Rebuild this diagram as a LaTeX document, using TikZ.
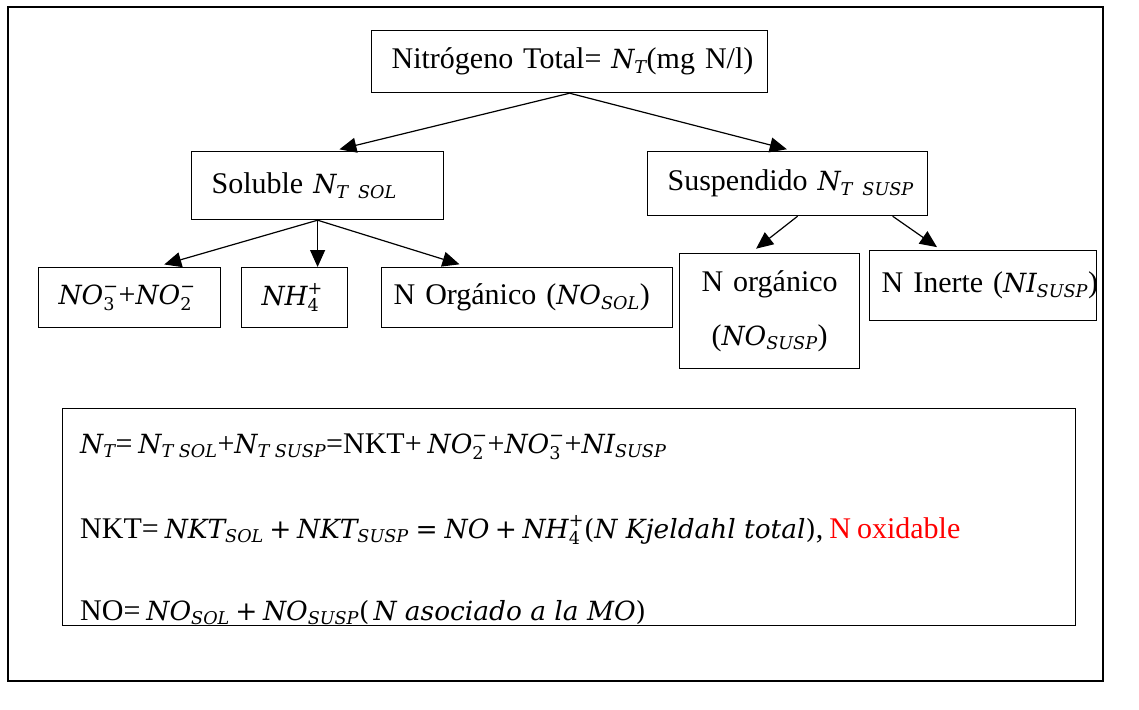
\documentclass[tikz,border=0pt]{standalone}
\usepackage{fontspec}
\usepackage{amsmath}
\usetikzlibrary{arrows.meta}
\setmainfont{Liberation Serif}[WordSpace=0.8]
\newfontfamily\mfont{DejaVu Serif}[Scale=0.88]
\DeclareMathSizes{30}{30}{20}{15}
% italic symbols, upright indices and operators for the formulas
\newcommand\mi[1]{\text{\mfont\itshape #1}}
\newcommand\mn[1]{\text{\mfont #1}}
\newcommand\mplus{\mathbin{\mn{+}}}
\newcommand\meq{\mathrel{\mn{=}}}
\newcommand\ion[2]{_{\mn{#1}}^{\mn{#2}}}
\begin{document}
\begin{tikzpicture}[x=1pt,y=-1pt,
  every node/.style={font=\fontsize{30}{36}\selectfont},
  box/.style={draw, line width=1.2pt, anchor=north west, inner xsep=20pt, inner ysep=0pt, align=left},
  link/.style={line width=1.2pt, -{Triangle[length=17pt,width=15pt]}}]
\useasboundingbox (0,0) rectangle (1139,709);
\draw[line width=2.5pt] (8,7) rectangle (1103,681);

% tree
\node[box, text width=356pt, minimum height=62pt] (total) at (371,30)
  {\mbox{Nitrógeno Total= $\mi{N}_{\mi{T}}$(mg N/l)}};
\node[box, text width=212pt, minimum height=68pt] (sol) at (191,151)
  {\mbox{Soluble $\mi{N}_{\mi{T SOL}}$}};
\node[box, text width=240pt, minimum height=64pt] (susp) at (647,151)
  {\mbox{Suspendido $\mi{N}_{\mi{T SUSP}}$}};
\node[box, text width=142pt, minimum height=60pt] (nox) at (38,267)
  {\mbox{$\mi{NO}\ion{3}{−}$+$\mi{NO}\ion{2}{−}$}};
\node[box, text width=66pt, minimum height=60pt] (amm) at (241,267)
  {\mbox{$\mi{NH}\ion{4}{+}$}};
\node[box, inner xsep=12pt, text width=267pt, minimum height=60pt] (orgsol) at (381,267)
  {\mbox{N Orgánico ($\mi{NO}_{\mi{SOL}}$)}};
\node[box, text width=140pt, minimum height=115pt, align=center,
      font=\fontsize{30}{54}\selectfont] (orgsusp) at (679,253)
  {N orgánico\\($\mi{NO}_{\mi{SUSP}}$)};
\node[box, inner xsep=12pt, text width=203pt, minimum height=70pt] (inert) at (869,250)
  {\mbox{N Inerte ($\mi{NI}_{\mi{SUSP}}$)}};

\draw[link, shorten >=7pt] (total.south) -- ([xshift=15pt]sol.north);
\draw[link, shorten >=7pt] (total.south) -- ([xshift=6pt]susp.north);
\draw[link, shorten >=9pt] (sol.south) -- ([xshift=26pt]nox.north);
\draw[link] (sol.south) -- (sol.south |- amm.north);
\draw[link, shorten >=9pt] (sol.south) -- ([xshift=-59pt]orgsol.north);
\draw[link, shorten >=7pt] ([xshift=10pt]susp.south) -- ([xshift=-19pt]orgsusp.north);
\draw[link, shorten >=5pt] ([xshift=105pt]susp.south) -- ([xshift=-42pt]inert.north);

% balance equations
\node[draw, line width=1.2pt, anchor=north west, minimum width=1013pt,
      minimum height=217pt, inner sep=0pt] (eqbox) at (62,408) {};
\node[anchor=base west, inner sep=0pt] (eqA) at (80,453)
  {$\mi{N}_{\mi{T}}$= $\mi{N}_{\mi{T SOL}}$+$\mi{N}_{\mi{T SUSP}}$=NKT+ $\mi{NO}\ion{2}{−}$+$\mi{NO}\ion{3}{−}$+$\mi{NI}_{\mi{SUSP}}$};
\node[anchor=base west, inner sep=0pt] (eqB) at (80,538)
  {NKT= $\mi{NKT}_{\mi{SOL}}\mplus\mi{NKT}_{\mi{SUSP}}\meq\mi{NO}\mplus\mi{NH}\ion{4}{+}\mn{(}\mi{N Kjeldahl total}\mn{)}$, \textcolor{red}{N oxidable}};
\node[anchor=base west, inner sep=0pt] (eqC) at (80,620)
  {NO= $\mi{NO}_{\mi{SOL}}\mplus\mi{NO}_{\mi{SUSP}}\mn{(}\,\mi{N asociado a la MO}\mn{)}$};
\end{tikzpicture}
\end{document}
